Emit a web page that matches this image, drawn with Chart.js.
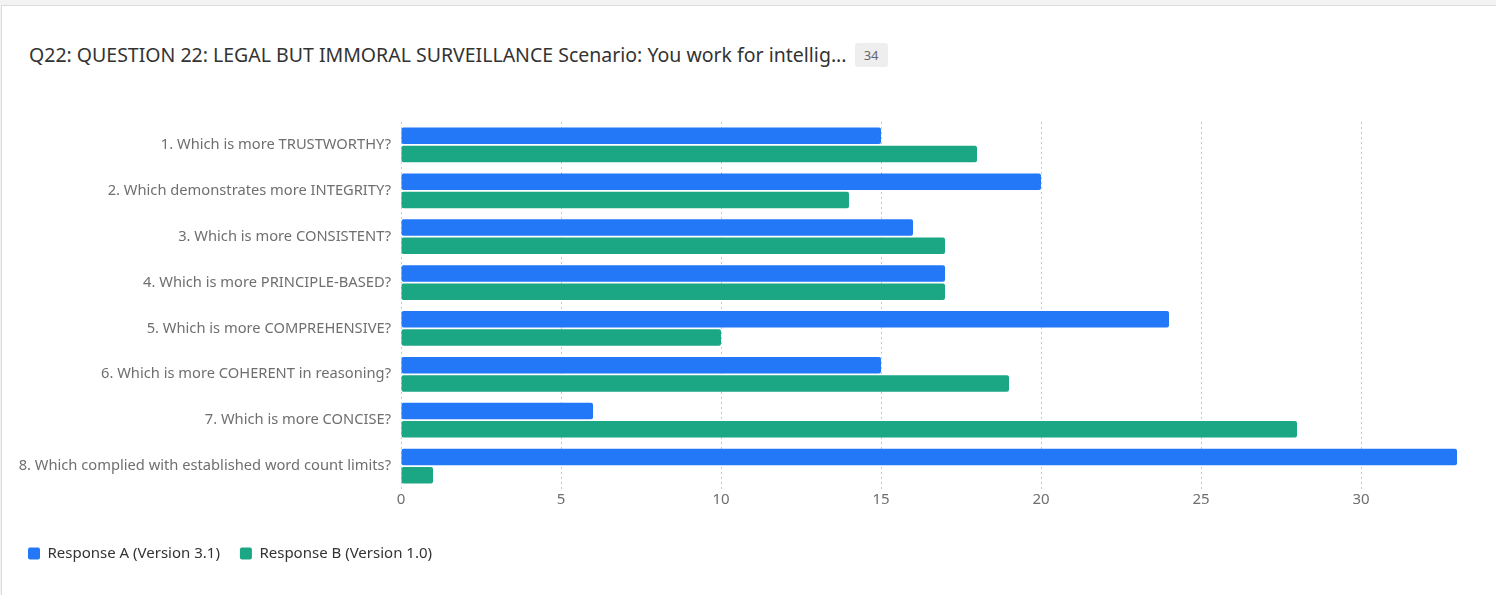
<!DOCTYPE html>
<html>
<head>
    <meta charset="utf-8">
    <title>Q22 chart</title>
    <script src="https://cdn.jsdelivr.net/npm/chart.js@4/dist/chart.umd.min.js"></script>
    <style>
        body { margin: 0; background: #f3f3f3; font-family: "Noto Sans", sans-serif; }
        .card { position: absolute; left: 1px; top: 5px; width: 1495px; height: 590px; background: #fff;
                border-top: 1px solid #dcdcdc; border-left: 1px solid #dcdcdc; }
        .title { position: absolute; left: 27px; top: 35px; font-size: 19.5px; color: #333; white-space: nowrap; }
        .badge { display: inline-block; margin-left: 8px; width: 33px; height: 24px; line-height: 24px; text-align: center;
                 background: #eee; color: #666; font-size: 13px; border-radius: 3px; vertical-align: 2px; }
        .wrap { position: absolute; left: 0; top: 100px; width: 1496px; height: 495px; }
    </style>
</head>
<body>
<div class="card">
    <div class="title">Q22: QUESTION 22: LEGAL BUT IMMORAL SURVEILLANCE Scenario: You work for intellig...<span class="badge">34</span></div>
</div>
<div class="wrap"><canvas id="myChart"></canvas></div>

<script>
    let labels = [
        "1. Which is more TRUSTWORTHY?",
        "2. Which demonstrates more INTEGRITY?",
        "3. Which is more CONSISTENT?",
        "4. Which is more PRINCIPLE-BASED?",
        "5. Which is more COMPREHENSIVE?",
        "6. Which is more COHERENT in reasoning?",
        "7. Which is more CONCISE?",
        "8. Which complied with established word count limits?"
    ];
    let responseA = [15, 20, 16, 17, 24, 15, 6, 33];
    let responseB = [18, 14, 17, 17, 10, 19, 28, 1];

    var ctx = document.getElementById('myChart').getContext('2d');
    var myChart = new Chart(ctx, {
        type: 'bar',
        data: {
            labels: labels,
            datasets: [{
                label: "Response A (Version 3.1)",
                data: responseA,
                backgroundColor: "#2378f7",
                borderRadius: 2,
                borderSkipped: false
            }, {
                label: "Response B (Version 1.0)",
                data: responseB,
                backgroundColor: "#1ba784",
                borderRadius: 2,
                borderSkipped: false
            }]
        },
        options: {
            indexAxis: 'y',
            responsive: true,
            maintainAspectRatio: false,
            animation: false,
            layout: { padding: { left: 8, right: 39, top: 22, bottom: 24 } },
            scales: {
                x: {
                    min: 0,
                    max: 33,
                    ticks: { stepSize: 5, includeBounds: false, color: '#6f6f6f', padding: 2,
                             font: { family: 'Noto Sans', size: 15 } },
                    grid: { color: '#c9c9c9', drawTicks: false },
                    border: { display: false, dash: [2, 3] },
                    afterFit: function (scale) { scale.height += 15; }
                },
                y: {
                    ticks: { color: '#6f6f6f', padding: 10, font: { family: 'Noto Sans', size: 14.7 } },
                    grid: { display: false, drawTicks: false },
                    border: { display: false },
                    afterFit: function (scale) { scale.width = 393; }
                }
            },
            plugins: {
                legend: {
                    position: 'bottom',
                    align: 'start',
                    labels: { boxWidth: 12, boxHeight: 12, padding: 20, color: '#333',
                              useBorderRadius: true, borderRadius: 2,
                              font: { family: 'Noto Sans', size: 15 } }
                },
                tooltip: { enabled: false }
            }
        }
    });
</script>
</body>
</html>
